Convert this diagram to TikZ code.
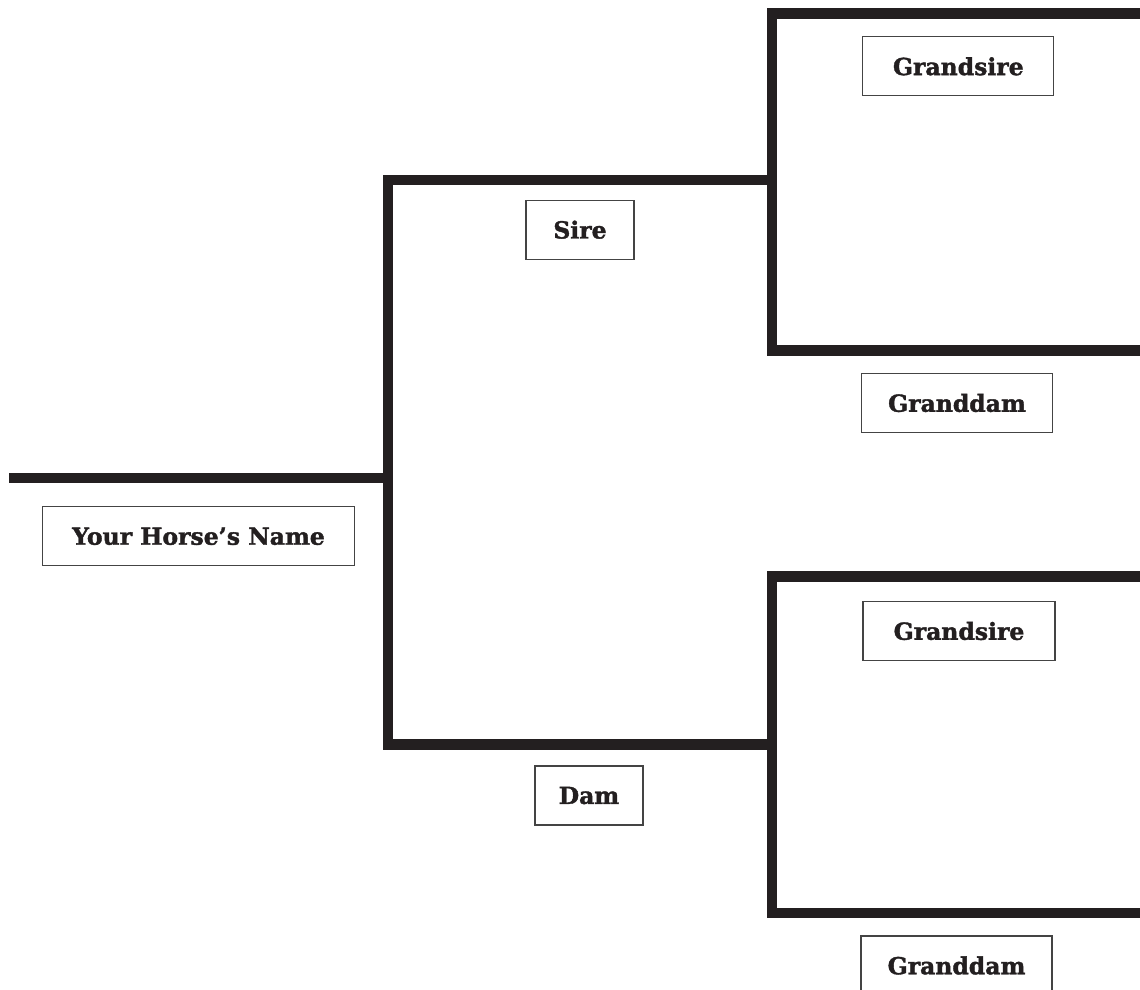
\documentclass[tikz,border=0pt]{standalone}
\usepackage{fontspec}
\setmainfont{DejaVu Serif}[BoldFont={DejaVu Serif Bold},BoldFeatures={FakeBold=1.6}]
\definecolor{ink}{HTML}{231F20}
\definecolor{boxline}{HTML}{444444}
\begin{document}
\begin{tikzpicture}[x=1pt,y=-1pt,
  bar/.style={draw=ink,line width=10.5pt,line cap=butt,line join=miter},
  namebox/.style={draw=boxline,line width=1.1pt,fill=white,inner sep=0pt,
    font=\fontsize{23.5}{25}\selectfont\bfseries,text=ink,minimum height=59pt}]
\useasboundingbox (0,0) rectangle (1140,989);
\clip (0,0) rectangle (1140,989);
% coordinates
\coordinate (hL) at (9,478);
\coordinate (hR) at (388,478);
\coordinate (sT) at (772,180);
\coordinate (cT) at (388,180);
\coordinate (cB) at (388,744.7);
\coordinate (dB) at (772,744.7);
\coordinate (u1) at (1146,13.5);
\coordinate (u2) at (772,13.5);
\coordinate (u3) at (772,350.5);
\coordinate (u4) at (1146,350.5);
\coordinate (l1) at (1146,576.7);
\coordinate (l2) at (772,576.7);
\coordinate (l3) at (772,913);
\coordinate (l4) at (1146,913);
% bars
\draw[bar] (hL) -- (hR);
\draw[bar] (sT) -- (cT) -- (cB) -- (dB);
\draw[bar] (u1) -- (u2) -- (u3) -- (u4);
\draw[bar] (l1) -- (l2) -- (l3) -- (l4);
% labels
\node[namebox,minimum width=311.6pt] (horse) at (198.5,536.3) {Your Horse’s Name};
\node[namebox,minimum width=108pt] (sire) at (580,229.7) {Sire};
\node[namebox,minimum width=108pt] (dam) at (589,795.5) {Dam};
\node[namebox,minimum width=191pt] (gs1) at (958.3,66.3) {Grandsire};
\node[namebox,minimum width=191pt] (gd1) at (957,403) {Granddam};
\node[namebox,minimum width=192pt] (gs2) at (959,631) {Grandsire};
\node[namebox,minimum width=191pt] (gd2) at (956.5,965.5) {Granddam};
\end{tikzpicture}
\end{document}
